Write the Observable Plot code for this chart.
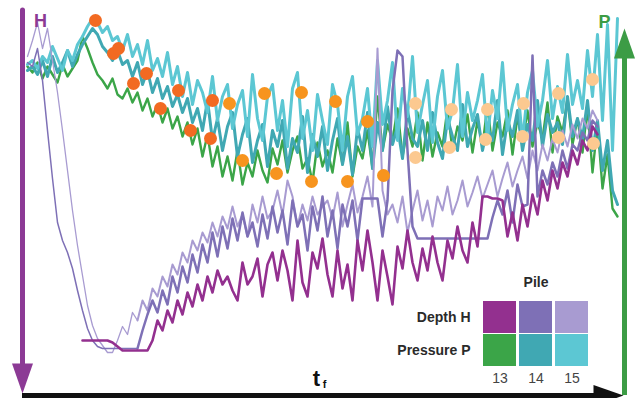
<!DOCTYPE html>
<html>
<head>
<meta charset="utf-8">
<script src="https://cdn.jsdelivr.net/npm/d3@7"></script>
<script src="https://cdn.jsdelivr.net/npm/@observablehq/plot@0.6"></script>
<style>
  html, body { margin: 0; padding: 0; background: #fff; overflow: hidden; }
  #wrap { position: relative; width: 643px; height: 398px; }
  #legend { position: absolute; left: 370px; top: 270px; }
  svg { font-family: "Liberation Sans", Arial, sans-serif; }
</style>
</head>
<body>
<div id="wrap"><div id="main"></div><div id="legend"></div></div>
<script>
// ---- sampling grid (time after start, arbitrary units) ----
const time = d3.range(5, 600, 5); // 119 samples

// ---- Pressure P (level measured downward from top, arbitrary units) ----
const pressure13 = [
  53,59,49,65,53,61,69,51,63,55,
  47,23,35,49,61,67,75,65,81,85,
  75,89,79,97,85,103,91,109,95,115,
  103,123,109,131,115,143,121,153,133,163,
  143,167,137,171,149,163,137,157,169,135,
  151,127,159,137,123,155,145,169,129,153,
  137,159,125,151,109,163,133,145,117,155,
  83,137,111,127,95,143,115,133,99,147,
  109,143,119,133,95,137,113,127,101,139,
  107,133,91,137,109,123,97,141,103,129,
  97,133,109,125,89,139,103,119,85,131,
  105,139,93,159,111,175,141,195,203
];
const pressure14 = [
  57,53,61,47,63,43,59,49,37,53,
  41,31,23,15,21,33,39,47,37,51,
  47,63,49,71,57,79,65,85,73,93,
  81,99,85,109,95,117,87,127,105,137,
  113,99,143,121,105,149,127,111,153,117,
  133,107,155,125,139,103,159,121,143,113,
  157,127,105,151,123,161,115,137,99,155,
  109,137,93,131,113,145,97,125,133,107,
  137,99,129,145,105,123,137,91,133,115,
  101,137,113,127,87,141,107,123,97,137,
  111,127,87,133,101,119,109,131,83,123,
  105,125,87,137,107,157,127,177,191
];
const pressure15 = [
  51,47,55,43,49,33,45,57,37,47,
  31,23,13,5,9,19,13,27,23,37,
  21,43,31,51,27,57,45,63,39,71,
  53,83,59,91,67,79,99,63,107,83,
  71,115,91,77,123,61,105,127,83,71,
  117,87,133,75,59,125,97,137,81,107,
  131,71,91,137,83,63,121,105,75,133,
  47,111,87,49,127,75,103,43,119,91,
  67,129,83,57,115,97,51,123,79,107,
  87,61,125,77,105,49,117,91,71,127,
  79,57,113,87,47,105,73,99,41,91,
  67,95,37,83,21,107,11,137,5
];

// ---- Depth H (same level units) ----
const depth13 = [
  null,null,null,null,null,null,null,null,null,null,
  null,327,327,327,327,327,327,329,333,337,
  337,337,337,337,337,327,307,317,297,309,
  287,301,279,293,271,287,263,279,257,271,
  263,277,287,249,271,263,245,283,251,239,
  267,237,257,287,227,269,283,239,255,225,
  261,283,237,275,251,287,227,257,217,249,
  287,237,263,291,233,255,217,249,267,235,
  257,223,249,267,227,245,213,237,249,209,
  233,183,183,185,185,187,223,199,227,191,
  213,181,201,167,187,157,175,149,163,137,
  151,127,137,113,121,null,null,null,null
];
const depth14 = [
  49,53,35,67,117,165,209,227,239,255,
  277,297,315,327,333,335,335,335,335,335,
  335,335,335,317,301,287,299,277,291,263,
  279,253,269,241,259,231,249,219,243,213,
  235,205,227,199,223,209,233,201,225,193,
  219,197,231,187,213,201,237,193,217,183,
  223,197,235,191,213,187,227,185,185,185,
  185,223,187,77,37,43,137,213,225,225,
  225,225,225,225,225,225,225,225,225,225,
  225,225,225,204,187,201,177,209,171,193,
  191,42,183,157,171,149,163,137,155,131,
  137,119,127,107,113,null,null,null,null
];
const depth15 = [
  43,27,9,35,15,47,79,117,157,197,
  232,262,292,312,325,332,339,339,327,313,
  321,299,307,287,297,275,283,263,273,251,
  261,239,249,227,237,219,229,209,223,203,
  215,193,213,201,223,191,209,183,205,197,
  177,201,167,183,213,191,207,183,201,193,
  187,205,179,213,191,171,199,183,163,193,
  35,177,201,191,209,183,219,197,177,207,
  187,213,183,197,173,201,187,167,193,179,
  163,185,171,157,183,165,149,173,157,143,
  165,137,157,131,147,125,139,117,133,111,
  125,105,115,97,107,null,null,null,null
];

// ---- sampled points (orange dots) ----
const dotTime  = [73,91,96,111,124,138,156,168,190,188, 207,220,242,254,279,289,313,325,345,361, 393,393,429,427,465,463,501,500,536,536,570,571];
const dotLevel = [7,40,35,70,60,95,77,117,87,125, 90,147,80,160,79,168,88,168,108,162, 90,144,96,134,96,126,90,123,80,124,66,130];
const dotStage = [1,1,1,1,1,1,1,1,1,1, 2,2,2,2,2,2,2,2,2,2, 3,3,3,3,3,3,3,3,3,3,3,3];

// ---- legend ----
const piles = ["13", "14", "15"];
const measures = ["Depth H", "Pressure P"];
const depthColors = ["#93308f", "#7e70b6", "#a89bd1"];
const pressureColors = ["#3ba548", "#40a8b3", "#5cc7d3"];
const stageColors = ["#f26a22", "#f7941e", "#fcc990"];

const purpleAxis = "#8c3a95";
const greenAxis = "#3c9c45";

const legendCells = [];
piles.forEach((p, i) => {
  legendCells.push({pile: p, measure: "Depth H", color: depthColors[i]});
  legendCells.push({pile: p, measure: "Pressure P", color: pressureColors[i]});
});

// elongated filled arrow head pointing down (rotated as needed)
const arrowHead = {
  draw(ctx, size) {
    const r = Math.sqrt(size / Math.PI);
    const w = r * 0.7;
    ctx.moveTo(-w, -r);
    ctx.lineTo(w, -r);
    ctx.lineTo(0, r);
    ctx.closePath();
  }
};

const dots = dotTime.map((t, i) => ({t, level: dotLevel[i], stage: dotStage[i]}));
const early = (d, i) => i <= 22;   // fast initial penetration: thin traces
const later = (d, i) => i >= 22;

const main = Plot.plot({
  width: 643, height: 398,
  marginLeft: 22, marginRight: 21, marginTop: 13, marginBottom: 5,
  x: {domain: [0, 600], axis: null},
  y: {domain: [0, 380], reverse: true, axis: null},
  style: {fontFamily: '"Liberation Sans", Arial, sans-serif', background: "#fff"},
  marks: [
    Plot.lineY(pressure13, {x: time, stroke: pressureColors[0], strokeWidth: 2.4, strokeLinejoin: "round"}),
    Plot.lineY(pressure14, {x: time, stroke: pressureColors[1], strokeWidth: 3, strokeLinejoin: "round"}),
    Plot.lineY(pressure15, {x: time, stroke: pressureColors[2], strokeWidth: 3, strokeLinejoin: "round"}),
    Plot.lineY(depth15, {x: time, filter: early, stroke: depthColors[2], strokeWidth: 1.3, strokeLinejoin: "round"}),
    Plot.lineY(depth15, {x: time, filter: later, stroke: depthColors[2], strokeWidth: 2, strokeLinejoin: "round"}),
    Plot.lineY(depth14, {x: time, filter: early, stroke: depthColors[1], strokeWidth: 1.5, strokeLinejoin: "round"}),
    Plot.lineY(depth14, {x: time, filter: later, stroke: depthColors[1], strokeWidth: 2.5, strokeLinejoin: "round"}),
    Plot.lineY(depth13, {x: time, stroke: depthColors[0], strokeWidth: 2.6, strokeLinejoin: "round"}),
    Plot.dot(dots, {x: "t", y: "level", r: 6.5, fill: d => stageColors[d.stage - 1], stroke: "none"}),
    // axes as arrows
    Plot.ruleX([0], {y1: -3, y2: 360, stroke: purpleAxis, strokeWidth: 5, strokeLinecap: "round"}),
    Plot.dot([0], {x: 0, y: 365, symbol: arrowHead, r: 15, fill: purpleAxis, stroke: "none"}),
    Plot.ruleX([602], {y1: 382, y2: 40, stroke: greenAxis, strokeWidth: 5}),
    Plot.dot([0], {x: 602, y: 30, symbol: arrowHead, r: 15, rotate: 180, fill: greenAxis, stroke: "none"}),
    Plot.ruleY([382], {x1: 0, x2: 590, stroke: "#111", strokeWidth: 5}),
    Plot.dot([0], {x: 586, y: 382, symbol: arrowHead, r: 15, rotate: -90, fill: "#111", stroke: "none"}),
    // axis letters
    Plot.text(["H"], {frameAnchor: "top-left", textAnchor: "middle", lineAnchor: "middle", dx: 18, dy: 8, fill: purpleAxis, fontSize: 18, fontWeight: "bold"}),
    Plot.text(["P"], {frameAnchor: "top-right", textAnchor: "middle", lineAnchor: "middle", dx: -18, dy: 9, fill: greenAxis, fontSize: 18, fontWeight: "bold"}),
    Plot.text(["t"], {frameAnchor: "bottom", textAnchor: "middle", lineAnchor: "middle", dx: -6, dy: -15, fill: "#111", fontSize: 22, fontWeight: "bold"}),
    Plot.text(["f"], {frameAnchor: "bottom", textAnchor: "middle", lineAnchor: "middle", dx: 2, dy: -9, fill: "#111", fontSize: 11, fontWeight: "bold"})
  ]
});
document.getElementById("main").appendChild(main);

const legend = Plot.plot({
  width: 225, height: 120,
  marginLeft: 113, marginRight: 7, marginTop: 30, marginBottom: 23,
  x: {type: "band", domain: piles, paddingInner: 0.09, paddingOuter: 0, axis: null},
  y: {type: "band", domain: measures, paddingInner: 0.02, paddingOuter: 0, axis: null},
  color: {type: "identity"},
  style: {fontFamily: '"Liberation Sans", Arial, sans-serif', background: "transparent"},
  marks: [
    Plot.cell(legendCells, {x: "pile", y: "measure", fill: "color"}),
    Plot.text(piles, {x: d => d, frameAnchor: "bottom", lineAnchor: "middle", dy: 11, fill: "#444", fontSize: 14}),
    Plot.text(measures, {y: d => d, frameAnchor: "left", dx: -13, textAnchor: "end", fill: "#2a2a2a", fontSize: 14, fontWeight: "bold"}),
    Plot.text(["Pile"], {frameAnchor: "top", lineAnchor: "middle", dy: -18, fill: "#2a2a2a", fontSize: 14, fontWeight: "bold"})
  ]
});
document.getElementById("legend").appendChild(legend);
</script>
</body>
</html>
